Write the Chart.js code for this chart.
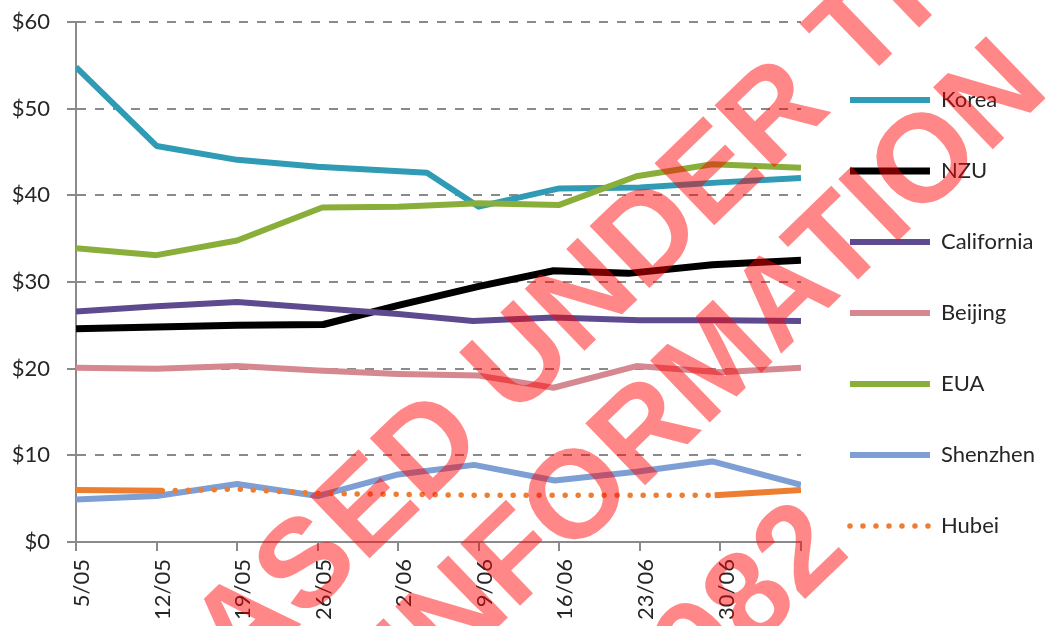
<!DOCTYPE html>
<html>
<head>
<meta charset="utf-8">
<script src="https://cdn.jsdelivr.net/npm/chart.js@4.4.1/dist/chart.umd.min.js"></script>
<style>
  html, body { margin: 0; padding: 0; background: #fff; overflow: hidden; }
  #wrap { position: relative; width: 1045px; height: 626px; }
</style>
</head>
<body>
<div id="wrap"><canvas id="chart"></canvas></div>
<script>
// x values are days counted from 5 May, ticks every 7 days
const tickLabels = ['5/05', '12/05', '19/05', '26/05', '2/06', '9/06', '16/06', '23/06', '30/06', ''];

const korea = [[0, 54.8], [7, 45.7], [14, 44.1], [21, 43.3], [30.5, 42.6], [35, 38.7], [42, 40.8], [49, 40.9], [56, 41.5], [63, 42.0]];
const nzu = [[0, 24.6], [7, 24.8], [14, 25.0], [21.5, 25.1], [28, 27.3], [35, 29.5], [41.5, 31.3], [48, 31.0], [55.3, 32.0], [63, 32.5]];
const california = [[0, 26.6], [7, 27.2], [14, 27.7], [21, 27.0], [28, 26.3], [34.5, 25.5], [41.5, 25.9], [49, 25.6], [56, 25.6], [63, 25.5]];
const beijing = [[0, 20.1], [7, 20.0], [14, 20.3], [21, 19.8], [28, 19.4], [35, 19.2], [41.5, 17.8], [48.7, 20.3], [56, 19.6], [63, 20.1]];
const eua = [[0, 33.9], [7, 33.1], [14, 34.8], [21.4, 38.6], [28, 38.7], [35, 39.1], [42, 38.9], [48.7, 42.2], [55.3, 43.6], [63, 43.2]];
const shenzhen = [[0, 4.9], [7, 5.3], [14, 6.7], [21, 5.3], [28, 7.8], [34.6, 8.9], [41.6, 7.1], [48.7, 8.1], [55.3, 9.3], [63, 6.6]];
const hubei = [[7.5, 5.9], [14, 6.1], [21, 5.6], [28, 5.5], [35, 5.4], [42, 5.4], [49, 5.4], [55.5, 5.4]];
// solid orange pieces at both ends (no legend entry)
const hubeiSolid = [[0, 6.0], [7.5, 5.9], [30, null], [55.5, 5.4], [63, 6.0]];

// watermark: each line is pinned by the centre of one of its letters (index "at")
const watermarkLines = [
  { text: 'RELEASED UNDER THE', at: 9, x: 522, y: 363 },
  { text: 'OFFICIAL INFORMATION', at: 12, x: 580, y: 500 },
  { text: 'ACT 1982', at: 7, x: 803, y: 553 }
];

const font = { family: 'Lato', size: 22 };
const textColor = '#262626';
const axisGrey = '#8a8a8a';

function toXY(arr) {
  return arr.map(p => ({ x: p[0], y: p[1] }));
}

function line(label, arr, color, width, extra) {
  return Object.assign({
    label: label,
    data: toXY(arr),
    borderColor: color,
    backgroundColor: color,
    borderWidth: width,
    borderJoinStyle: 'round',
    pointRadius: 0,
    tension: 0
  }, extra || {});
}

const datasets = [
  line('Korea', korea, '#2f9bb5', 6),
  line('NZU', nzu, '#000000', 7),
  line('California', california, '#5e4a8f', 6),
  line('Beijing', beijing, '#d68890', 6),
  line('EUA', eua, '#8aae3a', 6),
  line('Shenzhen', shenzhen, '#7e9fd4', 6),
  line('Hubei', hubei, '#ed7d31', 5.5, { borderDash: [0, 13], borderCapStyle: 'round' }),
  line('', hubeiSolid, '#ed7d31', 6, { spanGaps: false })
];
// later series painted on top, like the original
datasets.forEach((d, i) => { d.order = -i; });

const watermark = {
  id: 'watermark',
  afterDraw(chart) {
    const ctx = chart.ctx;
    ctx.save();
    ctx.fillStyle = 'rgba(255, 0, 0, 0.47)';
    ctx.font = 'bold 125px "Liberation Sans", Arial, sans-serif';
    ctx.textAlign = 'left';
    ctx.textBaseline = 'middle';
    watermarkLines.forEach(l => {
      const before = ctx.measureText(l.text.slice(0, l.at)).width;
      const half = ctx.measureText(l.text[l.at]).width / 2;
      ctx.save();
      ctx.translate(l.x, l.y);
      ctx.rotate(-44 * Math.PI / 180);
      ctx.fillText(l.text, -(before + half), 0);
      ctx.restore();
    });
    ctx.restore();
  }
};

const ctx = document.getElementById('chart').getContext('2d');
new Chart(ctx, {
  type: 'line',
  data: { datasets: datasets },
  plugins: [watermark],
  options: {
    responsive: true,
    maintainAspectRatio: false,
    animation: false,
    layout: { padding: 0 },
    plugins: {
      tooltip: { enabled: false },
      legend: {
        position: 'right',
        labels: {
          usePointStyle: true,
          pointStyle: 'line',
          pointStyleWidth: 80,
          padding: 49,
          color: textColor,
          font: font,
          filter: item => item.text !== '',
          sort: (a, b) => a.datasetIndex - b.datasetIndex,
          // keep the dotted look of Hubei in the legend
          generateLabels: chart => Chart.defaults.plugins.legend.labels.generateLabels(chart).map(item => {
            const ds = chart.data.datasets[item.datasetIndex];
            item.lineDash = ds.borderDash || [];
            item.lineCap = ds.borderCapStyle || 'butt';
            item.lineWidth = ds.borderWidth;
            return item;
          })
        }
      }
    },
    scales: {
      x: {
        type: 'linear',
        min: 0,
        max: 63,
        afterFit: axis => { axis.height = 84; },
        grid: { drawOnChartArea: false, tickLength: 9, color: axisGrey, lineWidth: 2 },
        border: { color: axisGrey, width: 2 },
        ticks: {
          stepSize: 7,
          minRotation: 90,
          maxRotation: 90,
          padding: 8,
          labelOffset: 6,
          color: textColor,
          font: font,
          callback: (v, i) => tickLabels[i]
        }
      },
      y: {
        min: 0,
        max: 60,
        afterFit: axis => { axis.width = 76; },
        grid: { color: axisGrey, lineWidth: 2, tickLength: 9, tickBorderDash: [] },
        border: { color: axisGrey, width: 2, dash: [9, 9] },
        ticks: {
          stepSize: 10,
          padding: 17,
          color: textColor,
          // small line height keeps the plot top at the $60 line position
          font: { family: 'Lato', size: 22, lineHeight: 0.46 },
          callback: v => '$' + v
        }
      }
    }
  }
});
</script>
</body>
</html>
